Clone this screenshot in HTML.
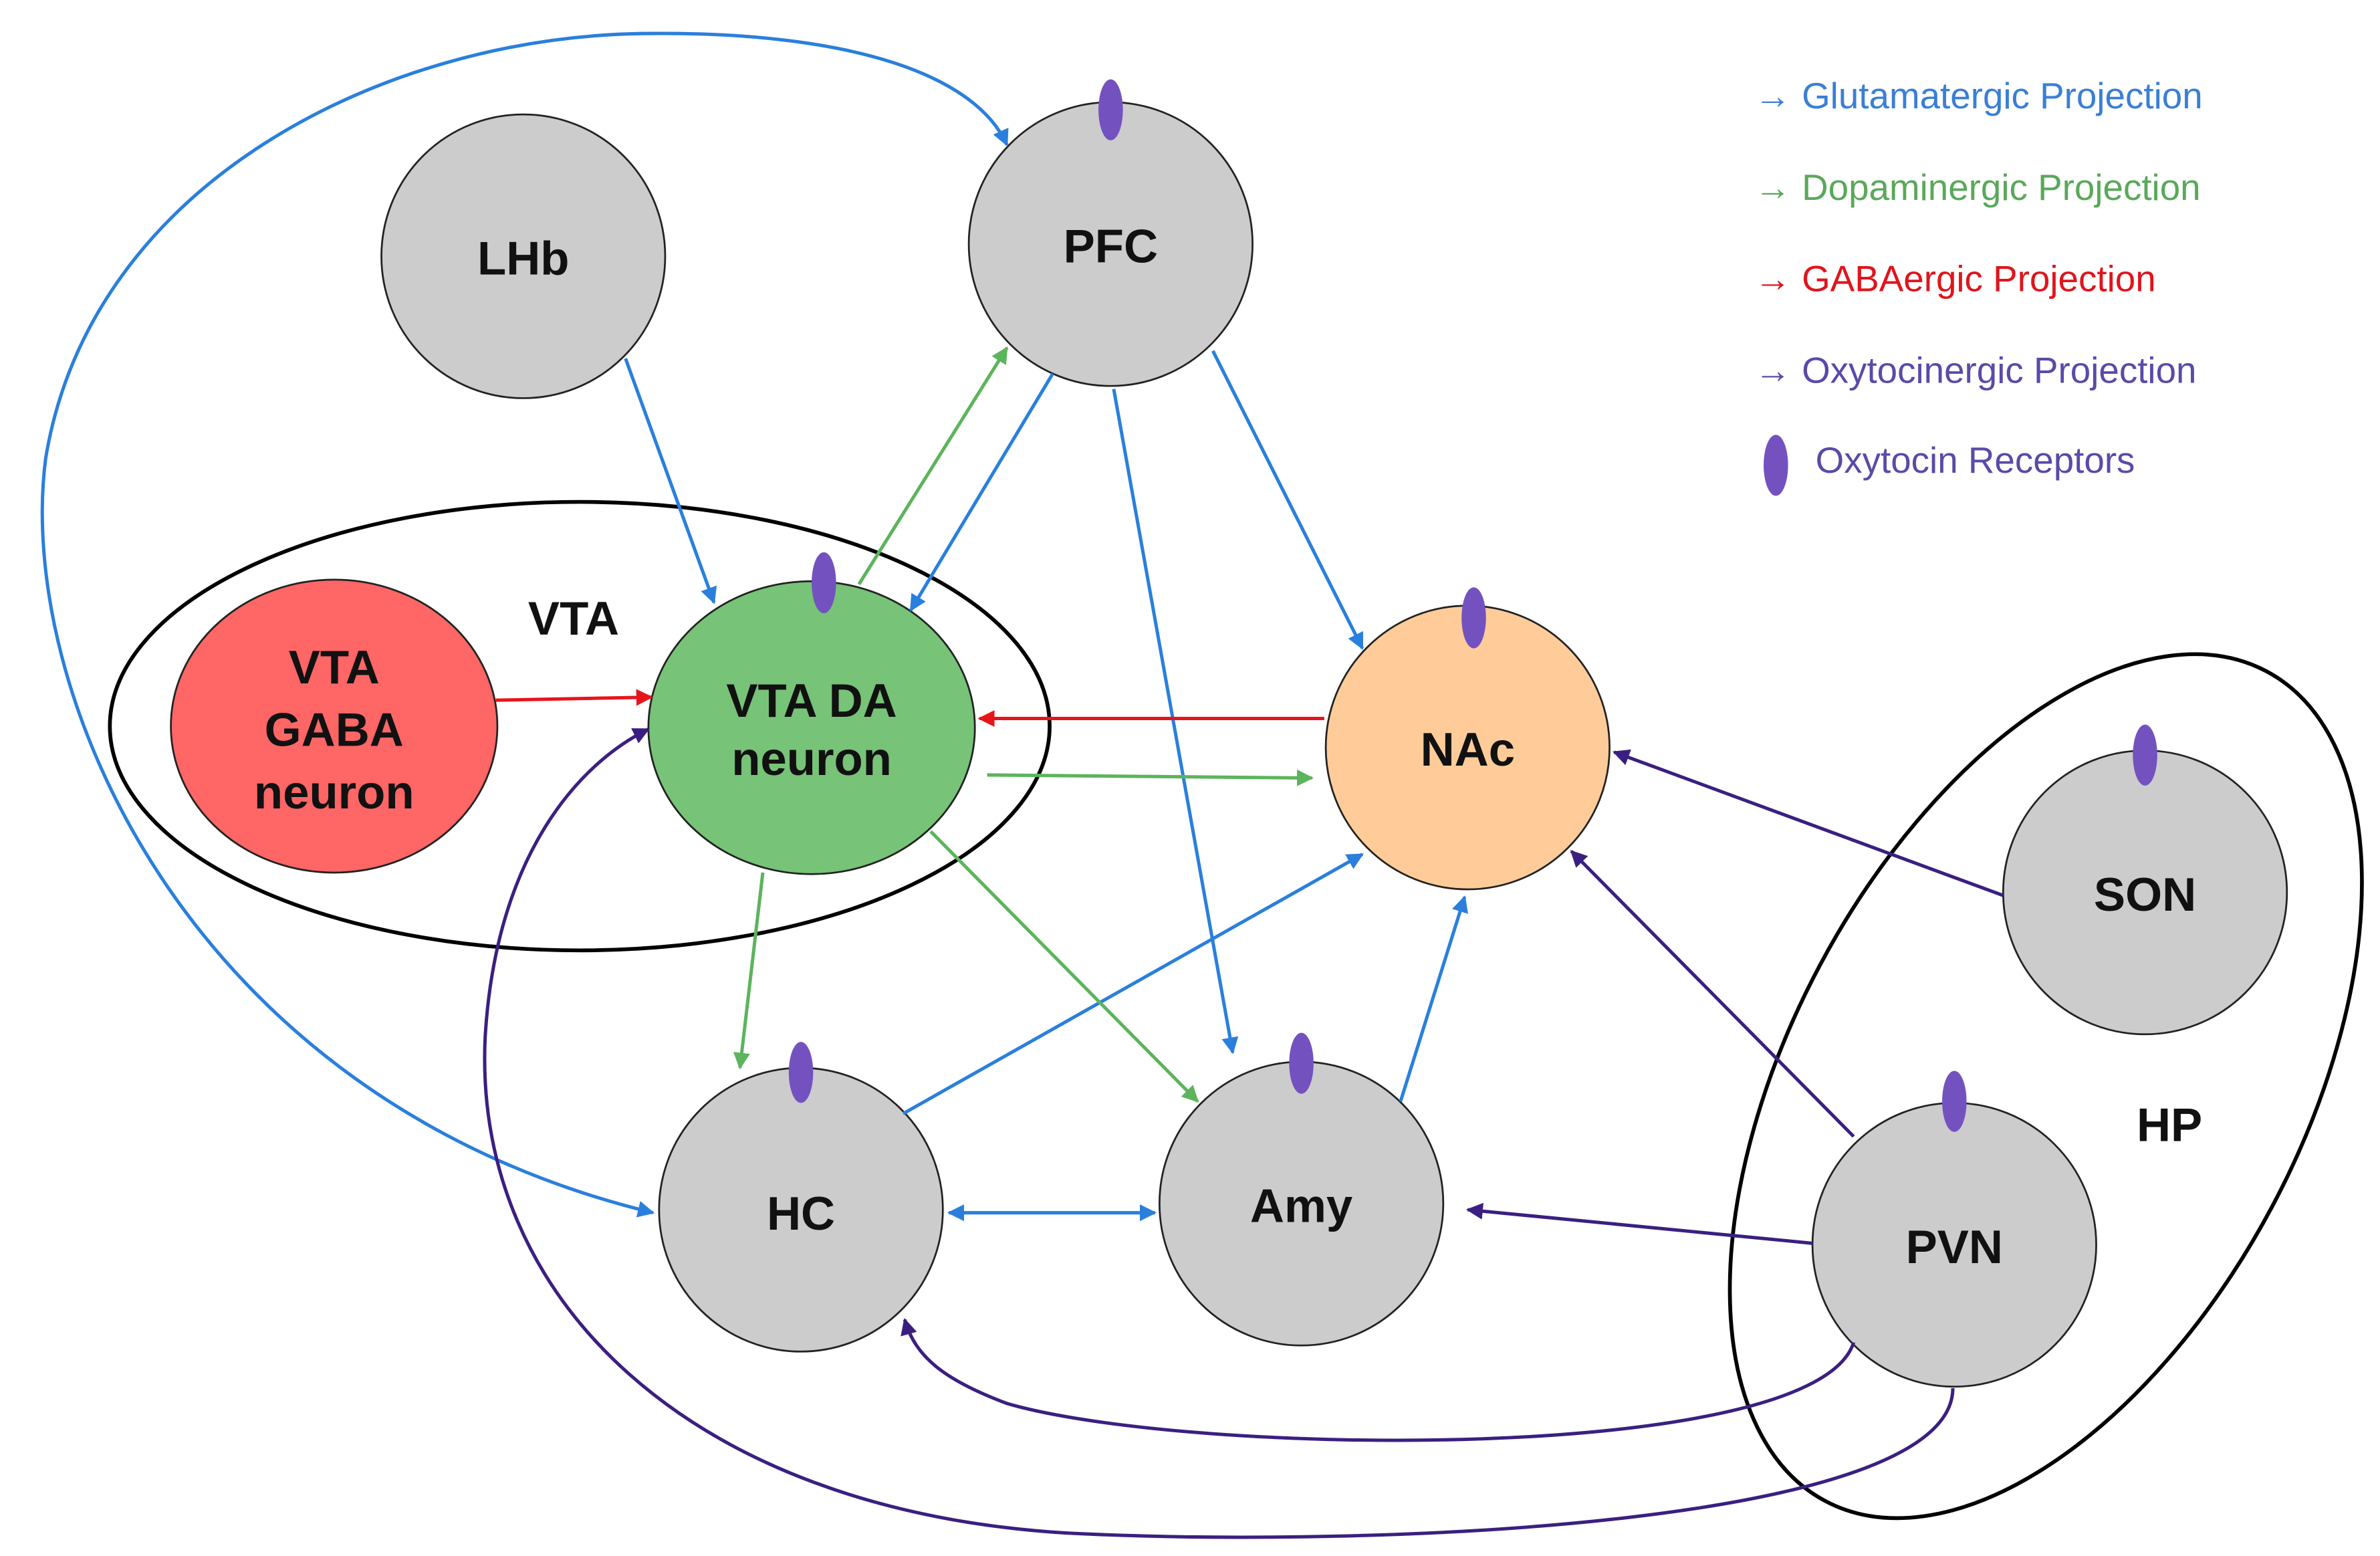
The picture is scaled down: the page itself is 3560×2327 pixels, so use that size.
<!DOCTYPE html>
<html><head><meta charset="utf-8"><style>
html,body{margin:0;padding:0;background:#fff;}
svg{display:block;}
text{font-family:"Liberation Sans",sans-serif;}
.lbl{font-weight:bold;font-size:31px;fill:#111;text-anchor:middle;}
.leg{font-size:24px;}
</style></head><body>
<svg width="3560" height="2327" viewBox="0 0 1560 1020" preserveAspectRatio="none" xmlns="http://www.w3.org/2000/svg">
<defs>
<marker id="mb" viewBox="0 0 10 10" refX="9" refY="5" markerWidth="5" markerHeight="5" orient="auto-start-reverse" markerUnits="strokeWidth"><path d="M0,0 L10,5 L0,10 z" fill="#2a7fdc"/></marker>
<marker id="mg" viewBox="0 0 10 10" refX="9" refY="5" markerWidth="5" markerHeight="5" orient="auto" markerUnits="strokeWidth"><path d="M0,0 L10,5 L0,10 z" fill="#5cb45c"/></marker>
<marker id="mr" viewBox="0 0 10 10" refX="9" refY="5" markerWidth="5" markerHeight="5" orient="auto" markerUnits="strokeWidth"><path d="M0,0 L10,5 L0,10 z" fill="#e8141c"/></marker>
<marker id="mp" viewBox="0 0 10 10" refX="9" refY="5" markerWidth="5" markerHeight="5" orient="auto" markerUnits="strokeWidth"><path d="M0,0 L10,5 L0,10 z" fill="#3b1f80"/></marker>
</defs>

<ellipse cx="380" cy="476" rx="308" ry="147" fill="none" stroke="#000" stroke-width="2.5"/>
<ellipse cx="1341" cy="712" rx="168" ry="308" transform="rotate(28 1341 712)" fill="none" stroke="#000" stroke-width="2.5"/>

<circle cx="343" cy="168" r="93" fill="#cccccc" stroke="#222" stroke-width="1.2"/>
<circle cx="728" cy="160" r="93" fill="#cccccc" stroke="#222" stroke-width="1.2"/>
<ellipse cx="219" cy="476" rx="107" ry="96" fill="#ff6666" stroke="#222" stroke-width="1.2"/>
<ellipse cx="532" cy="477" rx="107" ry="96" fill="#77c377" stroke="#222" stroke-width="1.2"/>
<circle cx="962" cy="490" r="93" fill="#ffcc99" stroke="#222" stroke-width="1.2"/>
<circle cx="1406" cy="585" r="93" fill="#cccccc" stroke="#222" stroke-width="1.2"/>
<circle cx="1281" cy="816" r="93" fill="#cccccc" stroke="#222" stroke-width="1.2"/>
<circle cx="525" cy="793" r="93" fill="#cccccc" stroke="#222" stroke-width="1.2"/>
<circle cx="853" cy="789" r="93" fill="#cccccc" stroke="#222" stroke-width="1.2"/>

<g fill="#7352bf">
<ellipse cx="728" cy="72" rx="8" ry="20"/>
<ellipse cx="540" cy="382" rx="8" ry="20"/>
<ellipse cx="966" cy="405" rx="8" ry="20"/>
<ellipse cx="1406" cy="495" rx="8" ry="20"/>
<ellipse cx="1281" cy="722" rx="8" ry="20"/>
<ellipse cx="525" cy="703" rx="8" ry="20"/>
<ellipse cx="853" cy="697" rx="8" ry="20"/>
<ellipse cx="1164" cy="305" rx="8" ry="20"/>
</g>

<g stroke="#2a7fdc" stroke-width="2.2" fill="none" marker-end="url(#mb)">
<path d="M428,795 C120,720 10,450 30,300 C60,120 250,25 420,22 C560,20 640,50 660,95" marker-start="url(#mb)"/>
<path d="M410,235 L468,395"/>
<path d="M690,245 L597,400"/>
<path d="M795,230 L893,425"/>
<path d="M730,255 L808,690"/>
<path d="M592,730 L893,560"/>
<path d="M918,722 L960,588"/>
<path d="M622,795 L757,795" marker-start="url(#mb)"/>
</g>

<g stroke="#5cb45c" stroke-width="2.2" fill="none" marker-end="url(#mg)">
<path d="M563,383 L660,228"/>
<path d="M647,508 L860,510"/>
<path d="M500,572 L485,700"/>
<path d="M610,545 L785,722"/>
</g>

<g stroke="#e8141c" stroke-width="2.2" fill="none" marker-end="url(#mr)">
<path d="M325,459 L427,457"/>
<path d="M868,471 L642,471"/>
</g>

<g stroke="#3b1f80" stroke-width="2.2" fill="none" marker-end="url(#mp)">
<path d="M1313,587 L1058,493"/>
<path d="M1215,745 L1030,558"/>
<path d="M1188,815 L962,793"/>
<path d="M1215,880 C1190,960 780,955 660,920 C620,905 600,890 593,865"/>
<path d="M1280,910 C1280,1000 900,1015 700,1005 C450,990 310,850 318,680 C325,560 380,500 425,478"/>
</g>

<text class="lbl" x="343" y="180">LHb</text>
<text class="lbl" x="728" y="172">PFC</text>
<text class="lbl" x="376" y="416">VTA</text>
<text class="lbl" x="219" y="448">VTA</text>
<text class="lbl" x="219" y="489">GABA</text>
<text class="lbl" x="219" y="530">neuron</text>
<text class="lbl" x="532" y="470">VTA DA</text>
<text class="lbl" x="532" y="508">neuron</text>
<text class="lbl" x="962" y="502">NAc</text>
<text class="lbl" x="1406" y="597">SON</text>
<text class="lbl" x="1281" y="828">PVN</text>
<text class="lbl" x="1422" y="748">HP</text>
<text class="lbl" x="525" y="806">HC</text>
<text class="lbl" x="853" y="801">Amy</text>

<g class="leg">
<text x="1150" y="71" fill="#3a7fd6">→</text><text x="1181" y="71" fill="#3a7fd6">Glutamatergic Projection</text>
<text x="1150" y="131" fill="#5aa85a">→</text><text x="1181" y="131" fill="#5aa85a">Dopaminergic Projection</text>
<text x="1150" y="191" fill="#e0141c">→</text><text x="1181" y="191" fill="#e0141c">GABAergic Projection</text>
<text x="1150" y="251" fill="#5a4aa8">→</text><text x="1181" y="251" fill="#5a4aa8">Oxytocinergic Projection</text>
<text x="1190" y="310" fill="#5a4aa8">Oxytocin Receptors</text>
</g>
</svg>
</body></html>
